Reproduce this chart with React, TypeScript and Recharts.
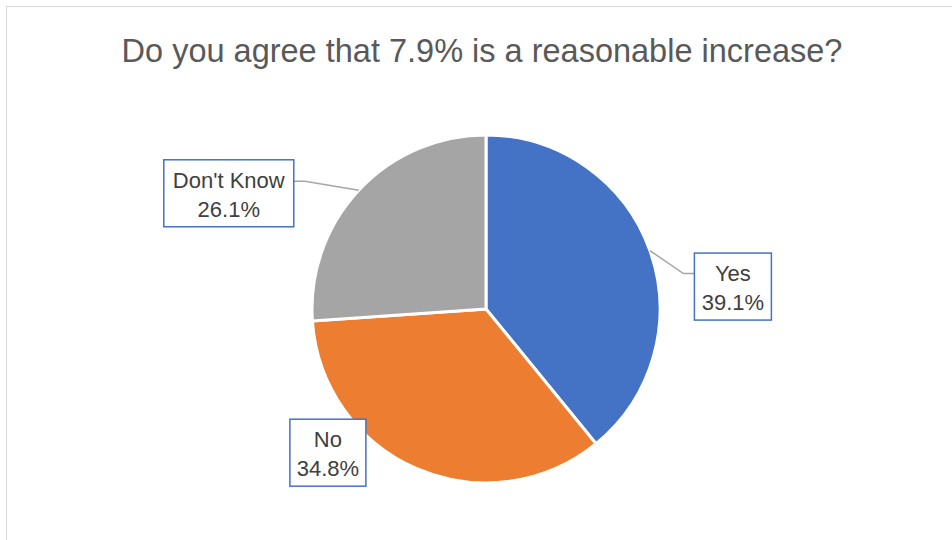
import { PieChart, Pie, Cell } from 'recharts';

// Survey answers
const answers = ['Yes', 'No', "Don't Know"];
const shares = [39.1, 34.8, 26.1];
const sliceColors = ['#4472C4', '#ED7D31', '#A5A5A5'];

const data = answers.map((name, i) => ({ name, value: shares[i] }));

// label box placement relative to the slice's edge point (dx, dy = box centre), box width, leader elbow
const labelLayout: Record<string, { dx: number; dy: number; w: number; leader: boolean }> = {
  Yes: { dx: 83, dy: 36, w: 77, leader: true },
  No: { dx: -89, dy: -16, w: 76, leader: false },
  "Don't Know": { dx: -130, dy: 3, w: 130, leader: true },
};

const RAD = Math.PI / 180;

const BoxLabel = (props: any) => {
  const { cx, cy, midAngle, outerRadius, percent, name } = props;
  const lay = labelLayout[name];
  if (!lay) return null;
  const ex = cx + outerRadius * Math.cos(-midAngle * RAD);
  const ey = cy + outerRadius * Math.sin(-midAngle * RAD);
  const bx = ex + lay.dx;
  const by = ey + lay.dy;
  const h = 67;
  const left = bx - lay.w / 2;
  const right = bx + lay.w / 2;
  const top = by - h / 2;
  let line = null;
  if (lay.leader) {
    const isRight = lay.dx > 0;
    const sideX = isRight ? left : right;
    const elbowX = isRight ? sideX - 11 : sideX + 11;
    const elbowY = isRight ? by - 13 : by - 12;
    line = (
      <polyline
        points={`${ex},${ey} ${elbowX},${elbowY} ${sideX},${elbowY}`}
        fill="none"
        stroke="#A6A6A6"
        strokeWidth={1.5}
      />
    );
  }
  return (
    <g>
      {line}
      <rect x={left} y={top} width={lay.w} height={h} fill="#FFFFFF" stroke="#4472C4" strokeWidth={1.5} />
      <text
        x={bx}
        y={top + 28}
        textAnchor="middle"
        fill="#404040"
        fontSize={22}
        fontFamily="'Liberation Sans', Arial, sans-serif"
      >
        {name}
      </text>
      <text
        x={bx}
        y={top + 57}
        textAnchor="middle"
        fill="#404040"
        fontSize={22}
        fontFamily="'Liberation Sans', Arial, sans-serif"
      >
        {(percent * 100).toFixed(1)}%
      </text>
    </g>
  );
};

export default function App() {
  return (
    <div style={{ position: 'absolute', left: 0, top: 0, width: 952, height: 540, background: '#FFFFFF', overflow: 'hidden' }}>
      <div
        style={{
          position: 'absolute',
          left: 6,
          top: 6,
          width: 1000,
          height: 600,
          border: '1.5px solid #D9D9D9',
          boxSizing: 'border-box',
        }}
      />
      <PieChart
        width={952}
        height={540}
        margin={{ top: 0, right: 0, bottom: 0, left: 0 }}
        style={{ position: 'absolute', left: 0, top: 0 }}
      >
        <text
          x={482}
          y={62}
          textAnchor="middle"
          fill="#595959"
          fontSize={32.5}
          fontFamily="'Liberation Sans', Arial, sans-serif"
        >
          Do you agree that 7.9% is a reasonable increase?
        </text>
        <Pie
          data={data}
          dataKey="value"
          nameKey="name"
          cx={486}
          cy={309}
          outerRadius={174}
          startAngle={90}
          endAngle={-270}
          stroke="#FFFFFF"
          strokeWidth={3}
          label={BoxLabel}
          labelLine={false}
          isAnimationActive={false}
        >
          {data.map((d, i) => (
            <Cell key={d.name} fill={sliceColors[i]} />
          ))}
        </Pie>
      </PieChart>
    </div>
  );
}
